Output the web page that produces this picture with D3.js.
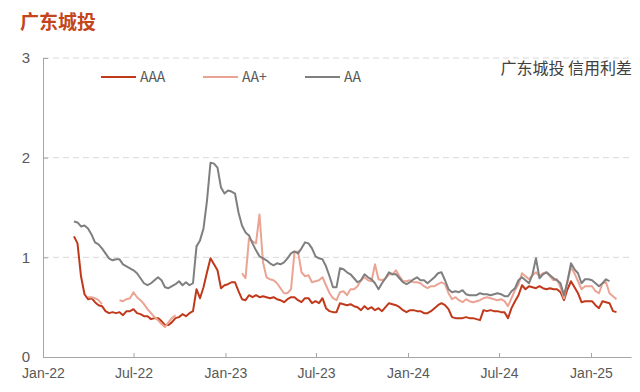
<!DOCTYPE html>
<html lang="zh">
<head>
<meta charset="UTF-8">
<title>广东城投 信用利差</title>
<script src="https://d3js.org/d3.v7.min.js"></script>
<style>
    body { margin: 0; background: #fff; }
    svg { display: block; font-family: "Noto Sans CJK SC", "Noto Sans", sans-serif; }
    .axis text { fill: #595959; font-size: 14px; }
    .axis path, .axis line { stroke: #a6a6a6; }
    .grid line { stroke: #d9d9d9; stroke-dasharray: 6 4; }
    .series { fill: none; stroke-width: 2px; stroke-linejoin: round; }
</style>
</head>
<body>
<div id="chart"></div>
<script>
// weekly observations, first one on 2022-03-04
const startDate = new Date(2022, 2, 4);

const aaa = [1.21,1.14,0.81,0.63,0.58,0.59,0.55,0.52,0.51,0.46,0.44,0.45,0.44,0.45,0.42,0.46,0.46,0.48,0.44,0.43,
    0.41,0.41,0.38,0.39,0.39,0.36,0.32,0.32,0.35,0.39,0.40,0.43,0.41,0.44,0.46,0.68,0.59,0.70,0.85,0.99,
    0.93,0.87,0.69,0.72,0.73,0.75,0.75,0.66,0.58,0.57,0.62,0.60,0.62,0.60,0.61,0.60,0.59,0.60,0.58,0.57,
    0.55,0.58,0.60,0.60,0.57,0.55,0.59,0.59,0.54,0.56,0.54,0.59,0.49,0.46,0.45,0.45,0.54,0.53,0.52,0.53,
    0.51,0.50,0.47,0.51,0.48,0.50,0.47,0.49,0.46,0.50,0.54,0.53,0.52,0.50,0.47,0.45,0.47,0.47,0.46,0.46,
    0.44,0.44,0.46,0.49,0.52,0.54,0.52,0.48,0.40,0.39,0.39,0.39,0.40,0.39,0.39,0.38,0.37,0.47,0.46,0.47,
    0.46,0.46,0.45,0.45,0.39,0.49,0.56,0.62,0.72,0.68,0.71,0.70,0.69,0.71,0.69,0.68,0.69,0.68,0.68,0.65,
    0.57,0.68,0.76,0.70,0.64,0.55,0.56,0.56,0.56,0.52,0.49,0.56,0.55,0.54,0.46,0.45];

const aaPlus = [null,null,null,null,0.60,0.60,0.59,0.57,0.53,null,null,null,null,0.57,0.56,0.58,0.59,0.65,0.60,0.57,
    0.53,0.48,0.44,0.40,0.37,0.33,0.30,0.35,0.39,0.42,null,null,null,null,null,null,null,null,null,null,
    null,null,null,null,null,null,null,null,0.84,0.79,1.19,1.16,1.14,1.43,0.95,0.80,0.78,0.77,0.74,0.69,
    0.64,0.64,0.68,1.05,1.06,0.85,0.81,0.82,0.75,0.76,0.77,0.80,0.72,0.64,0.59,0.57,0.65,0.66,0.62,0.68,
    0.68,0.71,0.77,0.80,0.77,0.76,0.93,0.78,0.77,0.79,0.83,0.83,0.87,0.81,0.76,0.76,0.77,0.75,0.75,0.74,
    0.71,0.69,0.71,0.71,0.73,0.75,0.73,0.64,0.58,0.60,0.57,0.55,0.58,0.56,0.55,0.56,0.57,0.59,0.60,0.59,
    0.58,0.57,0.58,0.56,0.51,0.59,0.67,0.73,0.84,0.81,0.78,0.82,0.85,0.81,0.84,0.85,0.81,0.77,0.78,0.70,
    0.59,0.76,0.90,0.84,0.76,0.68,0.71,0.71,0.71,0.66,0.64,0.74,0.75,0.64,0.61,0.58];

const aa = [1.36,1.35,1.31,1.32,1.29,1.23,1.15,1.13,1.09,1.04,0.99,0.97,0.98,0.98,0.93,0.91,0.89,0.87,0.84,0.79,
    0.74,0.72,0.74,0.77,0.80,0.77,0.70,0.69,0.71,0.73,0.76,0.72,0.75,0.72,0.74,1.11,1.17,1.29,1.57,1.95,
    1.94,1.90,1.70,1.64,1.67,1.66,1.64,1.45,1.32,1.25,1.22,1.14,1.07,1.01,0.99,0.97,0.94,0.92,0.94,0.93,
    0.95,0.99,1.04,1.06,1.04,1.09,1.15,1.14,1.09,1.01,0.99,0.98,0.91,0.81,0.70,0.70,0.89,0.88,0.85,0.83,
    0.79,0.75,0.77,0.83,0.80,0.78,0.74,0.68,0.74,0.79,0.85,0.83,0.83,0.79,0.75,0.73,0.75,0.78,0.80,0.77,
    0.77,0.74,0.77,0.80,0.84,0.85,0.77,0.68,0.65,0.66,0.65,0.67,0.63,0.62,0.62,0.62,0.64,0.63,0.63,0.62,
    0.63,0.64,0.63,0.61,0.61,0.66,0.69,0.77,0.80,0.77,0.74,0.83,0.99,0.79,0.83,0.85,0.82,0.79,0.77,0.74,
    0.62,0.76,0.94,0.88,0.84,0.74,0.78,0.78,0.77,0.74,0.71,0.74,0.78,0.76,null,null];

const seriesNames = ["AAA", "AA+", "AA"];
const seriesColors = ["#c0391b", "#eba494", "#7f7f7f"];
const yTicks = [0, 1, 2, 3];

const dates = aaa.map((_, i) => d3.timeDay.offset(startDate, i * 7));
const allSeries = [aaa, aaPlus, aa];

const width = 640, height = 392;
const margin = { top: 58, right: 9, bottom: 35, left: 43 };

const svg = d3.select("#chart").append("svg")
    .attr("width", width)
    .attr("height", height);

const x = d3.scaleTime()
    .domain([new Date(2022, 0, 1), new Date(2025, 2, 22)])
    .range([margin.left, width - margin.right]);

const y = d3.scaleLinear()
    .domain([0, 3])
    .range([height - margin.bottom, margin.top]);

// dashed grid
svg.append("g")
    .attr("class", "grid")
    .selectAll("line")
    .data(yTicks.filter(d => d > 0))
    .join("line")
    .attr("x1", margin.left)
    .attr("x2", width - margin.right)
    .attr("y1", d => y(d))
    .attr("y2", d => y(d));

// y axis
const yAxis = svg.append("g")
    .attr("class", "axis")
    .attr("transform", `translate(${margin.left},0)`)
    .call(d3.axisLeft(y).tickValues(yTicks).tickFormat(d3.format("d"))
        .tickSize(-5).tickPadding(13).tickSizeOuter(0));
yAxis.selectAll("text").style("font-size", "15px");

// x axis
svg.append("g")
    .attr("class", "axis")
    .attr("transform", `translate(0,${height - margin.bottom})`)
    .call(d3.axisBottom(x)
        .ticks(d3.timeMonth.every(6))
        .tickFormat(d3.timeFormat("%b-%y"))
        .tickSize(-4)
        .tickPadding(11)
        .tickSizeOuter(0));

// lines
const line = d3.line()
    .defined(d => d[1] != null)
    .x(d => x(d[0]))
    .y(d => y(d[1]));

allSeries.forEach((vals, k) => {
    svg.append("path")
        .datum(vals.map((v, i) => [dates[i], v]))
        .attr("class", "series")
        .attr("stroke", seriesColors[k])
        .attr("d", line);
});

// legend
const legend = svg.append("g").attr("transform", "translate(101,77)");
seriesNames.forEach((name, k) => {
    const g = legend.append("g").attr("transform", `translate(${k * 102},0)`);
    g.append("line")
        .attr("x1", 0).attr("x2", 35)
        .attr("stroke", seriesColors[k])
        .attr("stroke-width", 2);
    g.append("text")
        .attr("x", 39)
        .attr("dy", "0.35em")
        .attr("fill", "#595959")
        .style("font-size", "14px")
        .text(name);
});

// titles
svg.append("text")
    .attr("x", 20)
    .attr("y", 29)
    .attr("fill", "#c4451c")
    .style("font-size", "19px")
    .style("font-weight", "bold")
    .text("广东城投");

svg.append("text")
    .attr("x", 632)
    .attr("y", 74)
    .attr("text-anchor", "end")
    .attr("fill", "#404040")
    .style("font-size", "16px")
    .text("广东城投 信用利差");
</script>
</body>
</html>
